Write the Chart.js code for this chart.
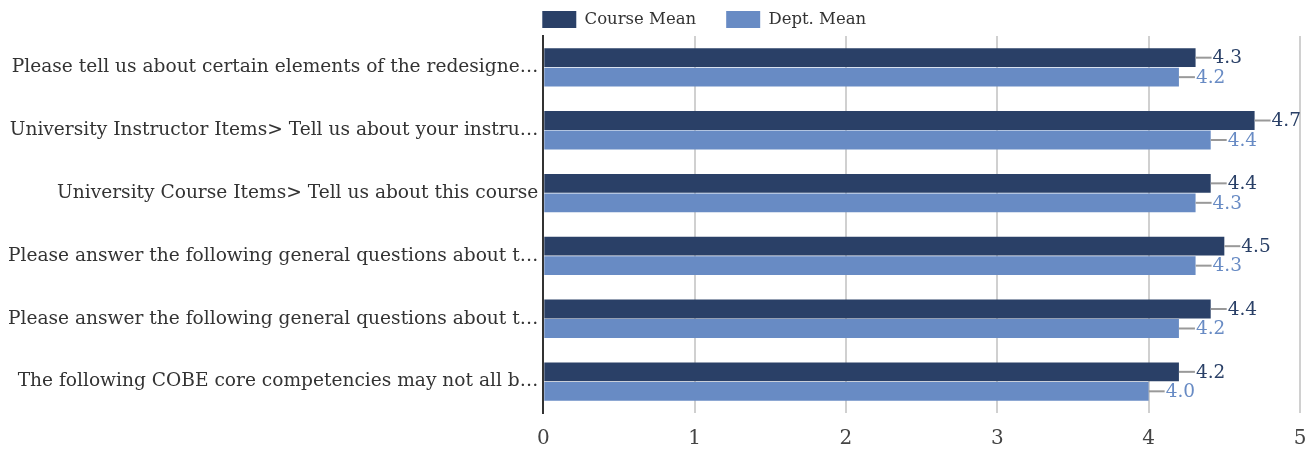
<!DOCTYPE html>
<html>
<head>
<meta charset="utf-8">
<script src="https://cdn.jsdelivr.net/npm/chart.js@4.4.1/dist/chart.umd.min.js"></script>
<style>
  html, body { margin: 0; padding: 0; background: #fff; }
  #wrap { width: 1314px; height: 449px; }
</style>
</head>
<body>
<div id="wrap"><canvas id="barChart"></canvas></div>
<script>
var categories = [
  "Please tell us about certain elements of the redesigne\u2026",
  "University Instructor Items> Tell us about your instru\u2026",
  "University Course Items> Tell us about this course",
  "Please answer the following general questions about t\u2026",
  "Please answer the following general questions about t\u2026",
  "The following COBE core competencies may not all b\u2026"
];
var courseMean = [4.31, 4.70, 4.41, 4.50, 4.41, 4.20];
var deptMean = [4.20, 4.41, 4.31, 4.31, 4.20, 4.00];
var xTicks = [0, 1, 2, 3, 4, 5];

var courseColor = "#2a4067";
var deptColor = "#688bc4";
var serif = "'DejaVu Serif', serif";

// value labels with a short leader line at the end of each bar
var valueLabels = {
  id: 'valueLabels',
  afterDatasetsDraw: function (chart) {
    var ctx = chart.ctx;
    chart.data.datasets.forEach(function (ds, i) {
      var meta = chart.getDatasetMeta(i);
      meta.data.forEach(function (bar, j) {
        var x = bar.x, y = bar.y;
        ctx.save();
        ctx.strokeStyle = "#999";
        ctx.lineWidth = 2;
        ctx.beginPath();
        ctx.moveTo(x, y);
        ctx.lineTo(x + 16, y);
        ctx.stroke();
        ctx.fillStyle = ds.backgroundColor;
        ctx.font = "18.5px " + serif;
        ctx.textAlign = "left";
        ctx.textBaseline = "middle";
        ctx.fillText(ds.data[j].toFixed(1), x + 17, y + 1);
        ctx.restore();
      });
    });
  }
};

// legend sits at the left edge of the plot area
var legendShift = {
  id: 'legendShift',
  afterLayout: function (chart) {
    if (chart.legend) {
      chart.legend.left = chart.chartArea.left - 10;
      chart.legend.top += 2;
    }
  }
};

var ctxB = document.getElementById("barChart").getContext('2d');
var myBarChart = new Chart(ctxB, {
  type: 'bar',
  data: {
    labels: categories,
    datasets: [{
      label: "Course Mean",
      data: courseMean,
      backgroundColor: courseColor,
      categoryPercentage: 0.62,
      barPercentage: 0.97
    }, {
      label: "Dept. Mean",
      data: deptMean,
      backgroundColor: deptColor,
      categoryPercentage: 0.62,
      barPercentage: 0.97
    }]
  },
  options: {
    indexAxis: 'y',
    responsive: true,
    maintainAspectRatio: false,
    animation: false,
    layout: { padding: { left: 3, right: 0, top: 0, bottom: 0 } },
    plugins: {
      legend: {
        position: 'top',
        align: 'start',
        labels: {
          boxWidth: 34,
          boxHeight: 17,
          padding: 9,
          color: "#333",
          font: { family: serif, size: 16.5 },
          generateLabels: function (chart) {
            var items = Chart.defaults.plugins.legend.labels.generateLabels(chart);
            items.forEach(function (it, k) {
              if (k < items.length - 1) it.text = it.text + "    ";
            });
            return items;
          }
        }
      },
      tooltip: { enabled: false }
    },
    scales: {
      x: {
        min: 0,
        max: 5,
        afterBuildTicks: function (axis) {
          axis.ticks = xTicks.map(function (v) { return { value: v }; });
        },
        afterFit: function (scale) {
          scale.height = 36;
          scale.paddingRight = 14;
        },
        grid: {
          drawTicks: false,
          lineWidth: 2,
          color: function (c) { return c.tick && c.tick.value === 0 ? "#333" : "#d0d0d0"; }
        },
        border: { display: false },
        ticks: {
          padding: 14,
          color: "#444",
          font: { family: serif, size: 20 }
        }
      },
      y: {
        grid: { display: false, drawTicks: false },
        border: { display: true, color: "#333", width: 2 },
        ticks: {
          padding: 5,
          color: "#333",
          font: { family: serif, size: 18.6 }
        }
      }
    }
  },
  plugins: [valueLabels, legendShift]
});
</script>
</body>
</html>
